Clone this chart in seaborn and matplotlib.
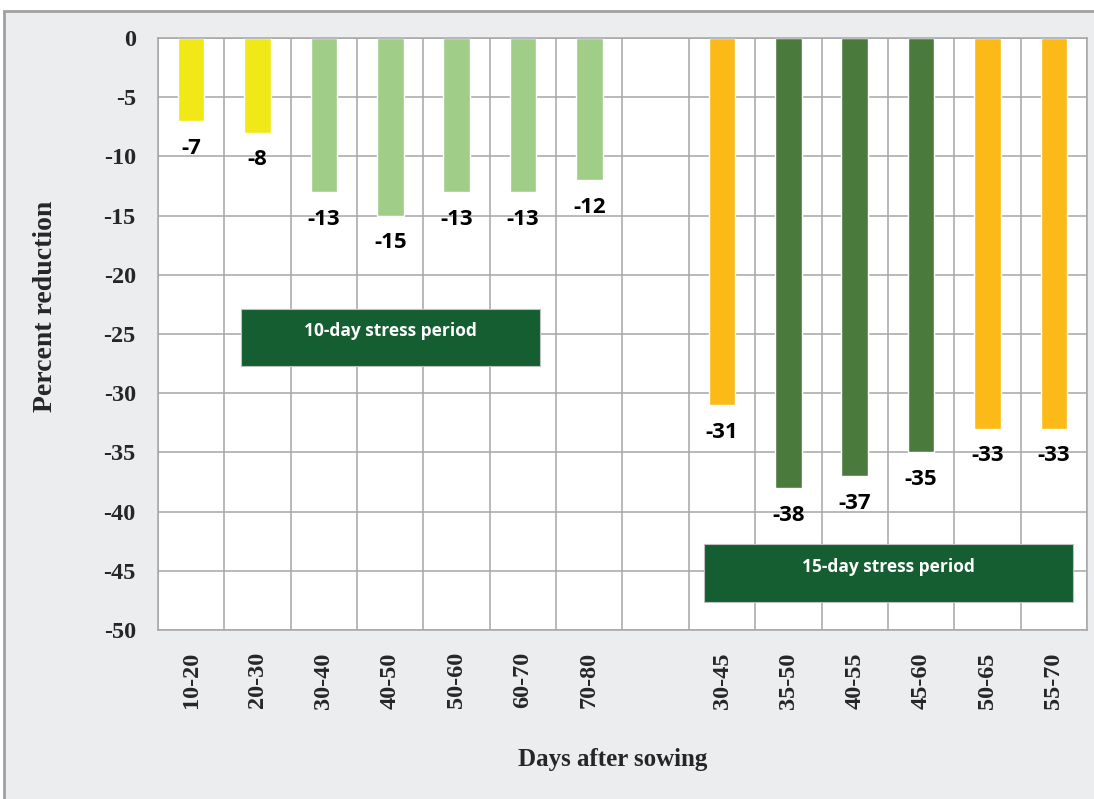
import pandas as pd
import matplotlib
matplotlib.use('Agg')
import matplotlib.pyplot as plt
import seaborn as sns
from matplotlib.patches import Rectangle

# data (a blank slot separates the two stress regimes)
periods = ['10-20', '20-30', '30-40', '40-50', '50-60', '60-70', '70-80', ' ',
           '30-45', '35-50', '40-55', '45-60', '50-65', '55-70']
reduction = [-7, -8, -13, -15, -13, -13, -12, None, -31, -38, -37, -35, -33, -33]
groups = ['early', 'early', 'mid', 'mid', 'mid', 'mid', 'mid', None,
          'flank', 'core', 'core', 'core', 'flank', 'flank']
palette = {'early': '#F0E817', 'mid': '#A0CD88', 'flank': '#FBBA18', 'core': '#4A7A3C'}
y_ticks = [0, -5, -10, -15, -20, -25, -30, -35, -40, -45, -50]

df = pd.DataFrame({'period': periods, 'reduction': reduction, 'group': groups})
df = df.dropna()

sns.set_style('white')
plt.rcParams['axes.unicode_minus'] = False
serif = 'Liberation Serif'
sans = 'Open Sans'
grid_col = '#A6A6A6'

fig = plt.figure(figsize=(10.94, 7.99), dpi=100)
fig.patch.set_facecolor('white')
# grey frame behind the chart
fig.patches.append(Rectangle((4 / 1094, -0.01), 1.1, 1 - 11 / 799 + 0.01,
                             transform=fig.transFigure, facecolor='#ECEDEF',
                             edgecolor='#A0A0A0', linewidth=2, zorder=-5))
ax = fig.add_axes([158 / 1094, 1 - 630 / 799, 929 / 1094, 592 / 799])
ax.set_facecolor('white')

sns.barplot(data=df, x='period', y='reduction', hue='group', order=periods,
            palette=palette, saturation=1, dodge=False, width=0.4, legend=False, ax=ax)

for cont in ax.containers:
    ax.bar_label(cont, fmt='{:.0f}', padding=12, fontsize=16, fontweight='bold',
                 family=sans, color='black')

ax.set_xlim(-0.5, len(periods) - 0.5)
ax.set_ylim(-50, 0)
ax.set_yticks(y_ticks)
ax.set_yticklabels([str(t) for t in y_ticks], fontsize=17.5, fontweight='bold', family=serif)
ax.set_xticks(range(len(periods)))
ax.set_xticklabels(periods, rotation=90, fontsize=17.5, fontweight='bold', family=serif)
ax.set_xticks([i - 0.5 for i in range(len(periods) + 1)], minor=True)
ax.tick_params(axis='x', which='both', length=0, pad=16)
ax.tick_params(axis='y', length=6, color=grid_col, width=1.1, pad=10)
ax.grid(axis='y', which='major', color=grid_col, linewidth=1.1)
ax.grid(axis='x', which='minor', color=grid_col, linewidth=1.1)
ax.grid(axis='x', which='major', visible=False)
ax.set_axisbelow(True)
for s in ax.spines.values():
    s.set_color(grid_col)
    s.set_linewidth(1.1)

ax.set_xlabel('Days after sowing', fontsize=18, fontweight='bold', family=serif)
ax.set_ylabel('Percent reduction', fontsize=20, fontweight='bold', family=serif)
ax.xaxis.set_label_coords(0.489, -0.2)
ax.yaxis.set_label_coords(-0.108, 0.547)

# stress-period boxes
box_col = '#145E32'
ax.add_patch(Rectangle((0.75, -27.7), 4.51, 4.8, facecolor=box_col,
                       edgecolor='#BFBFBF', linewidth=0.8, zorder=4))
ax.text(3.0, -24.75, '10-day stress period', ha='center', va='center', color='white',
        fontsize=12.5, fontweight='bold', family=sans, zorder=5)
ax.add_patch(Rectangle((7.73, -47.6), 5.56, 4.9, facecolor=box_col,
                       edgecolor='#BFBFBF', linewidth=0.8, zorder=4))
ax.text(10.51, -44.7, '15-day stress period', ha='center', va='center', color='white',
        fontsize=12.5, fontweight='bold', family=sans, zorder=5)

fig.savefig('out.png', dpi=100)
